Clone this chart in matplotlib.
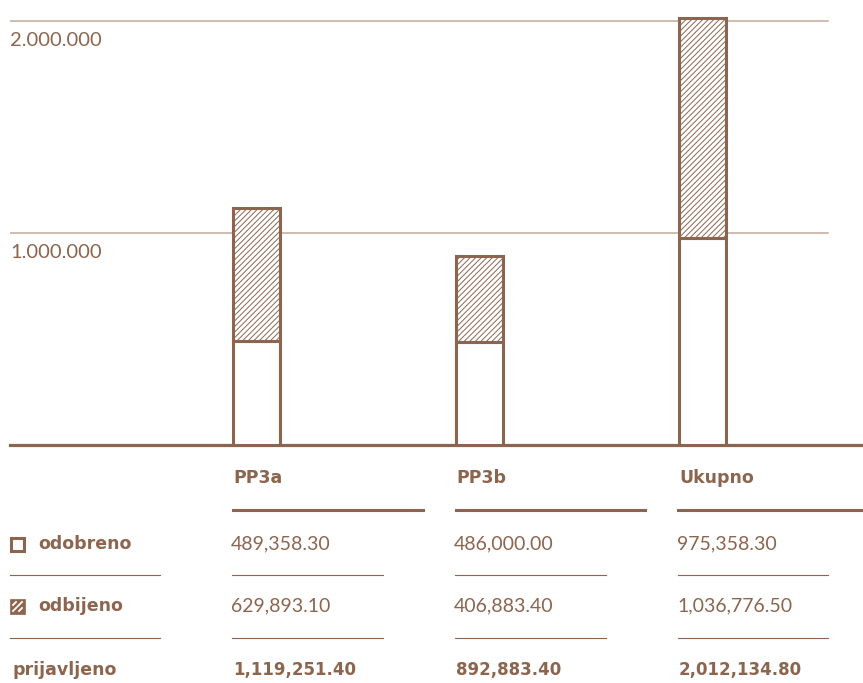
import matplotlib.pyplot as plt
from matplotlib.patches import Rectangle
import numpy as np

categories = ['PP3a', 'PP3b', 'Ukupno']
odobreno = [489358.30, 486000.00, 975358.30]
odbijeno = [629893.10, 406883.40, 1036776.50]
prijavljeno = [1119251.40, 892883.40, 2012134.80]
row_labels = ['odobreno', 'odbijeno', 'prijavljeno']
y_ticks = [1000000, 2000000]
y_tick_labels = ['1.000.000', '2.000.000']

BROWN = '#8C654F'
GRID = '#C2A898'
W, H = 863, 683

plt.rcParams['font.family'] = ['Lato', 'DejaVu Sans']
plt.rcParams['hatch.linewidth'] = 0.7
HEAVY = dict(family=['DejaVu Sans'], fontweight='bold')

fig = plt.figure(figsize=(W / 100, H / 100), dpi=100)


def fx(px):
    return px / W


def fy(py):
    return 1 - py / H


def fmt(v):
    return f'{v:,.2f}'


# chart area: baseline at y=445px, axis from x=10 to x=863
ax = fig.add_axes([fx(10), fy(445), fx(853), 445 / H])
x = np.arange(len(categories))
ax.set_xlim(-246.5 / 223, 2 + 161 / 223)
ax.set_ylim(0, 445 / 212 * 1e6)

for t in y_ticks:
    ax.axhline(t, xmin=0, xmax=818 / 853, color=GRID, lw=1.1, zorder=1)

bw = 47 / 223
ax.bar(x, odobreno, width=bw, facecolor='white', edgecolor=BROWN, lw=2.2, zorder=3)
ax.bar(x, odbijeno, width=bw, bottom=odobreno, facecolor='white', edgecolor=BROWN,
       lw=2.2, hatch='//////', zorder=3)

for s in ['top', 'right', 'left']:
    ax.spines[s].set_visible(False)
ax.spines['bottom'].set_color(BROWN)
ax.spines['bottom'].set_linewidth(2.3)
ax.set_xticks([])
ax.set_yticks([])

for t, lab in zip(y_ticks, y_tick_labels):
    ax.annotate(lab, xy=(0, t), xycoords=('axes fraction', 'data'),
                xytext=(0, -8), textcoords='offset points',
                ha='left', va='top', fontsize=14.5, color=BROWN, fontweight='normal')

# table below the chart
col_x = [233, 456, 679]
for cx, name in zip(col_x, categories):
    fig.text(fx(cx), fy(478), name, ha='left', va='center', fontsize=12.5,
             color=BROWN, **HEAVY)

fig.add_artist(plt.Line2D([fx(233), fx(423)], [fy(510), fy(510)], color=BROWN, lw=2.2))
fig.add_artist(plt.Line2D([fx(456), fx(645)], [fy(510), fy(510)], color=BROWN, lw=2.2))
fig.add_artist(plt.Line2D([fx(678), fx(863)], [fy(510), fy(510)], color=BROWN, lw=2.2))

row_y = [544, 606, 670]
rows = [odobreno, odbijeno, prijavljeno]
for i, (ry, lab, vals) in enumerate(zip(row_y, row_labels, rows)):
    bold = i == 2
    lx = 12 if bold else 38
    fig.text(fx(lx), fy(ry), lab, ha='left', va='center', fontsize=12.5,
             color=BROWN, **HEAVY)
    for cx, v in zip(col_x, vals):
        if bold:
            fig.text(fx(cx), fy(ry), fmt(v), ha='left', va='center',
                     fontsize=12, color=BROWN, **HEAVY)
        else:
            fig.text(fx(cx - 2), fy(ry), fmt(v), ha='left', va='center',
                     fontsize=14, fontweight='normal', color=BROWN)

for ly in [575, 638]:
    for x0, x1 in [(10, 160), (232, 383), (455, 606), (678, 828)]:
        fig.add_artist(plt.Line2D([fx(x0), fx(x1)], [fy(ly), fy(ly)], color=BROWN, lw=0.8))

# legend icons
fig.add_artist(Rectangle((fx(11), fy(551)), fx(13), 13 / H, facecolor='white',
                         edgecolor=BROWN, lw=2.2, transform=fig.transFigure))
fig.add_artist(Rectangle((fx(10), fy(614)), fx(15), 15 / H, facecolor=BROWN,
                         edgecolor=BROWN, lw=0.5, transform=fig.transFigure))
for a, b in [((13, 611), (22, 602)), ((13, 605), (16, 602)), ((19, 611), (22, 608))]:
    fig.add_artist(plt.Line2D([fx(a[0]), fx(b[0])], [fy(a[1]), fy(b[1])],
                              color='white', lw=1.3))

fig.savefig('out.png', dpi=100)
